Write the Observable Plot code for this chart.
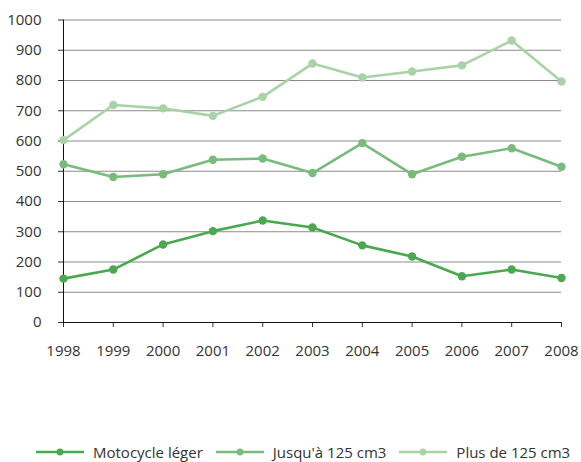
<!DOCTYPE html>
<html>
<head>
<meta charset="utf-8">
<script src="https://cdn.jsdelivr.net/npm/d3@7"></script>
<script src="https://cdn.jsdelivr.net/npm/@observablehq/plot@0.6"></script>
<style>
  body { margin: 0; background: #fff; font-family: "Open Sans", sans-serif; }
  #wrap { position: relative; width: 581px; height: 462px; }
  #legend { position: absolute; left: 36px; top: 441px; height: 22px; display: flex; align-items: center; font-size: 15px; color: #333; white-space: nowrap; }
  .item { display: flex; align-items: center; margin-right: 13px; }
  .item svg { margin-right: 9px; }
</style>
</head>
<body>
<div id="wrap"><div id="chart"></div><div id="legend"></div></div>
<script>
const years = [1998, 1999, 2000, 2001, 2002, 2003, 2004, 2005, 2006, 2007, 2008];
const seriesNames = ["Motocycle léger", "Jusqu'à 125 cm3", "Plus de 125 cm3"];
const motocycleLeger = [145, 175, 258, 302, 337, 314, 255, 218, 153, 175, 147];
const jusqua125 = [523, 481, 490, 538, 542, 494, 593, 490, 548, 576, 515];
const plusDe125 = [603, 719, 708, 683, 746, 856, 810, 830, 850, 932, 797];
const colors = ["#4aa84e", "#78bb7b", "#a9d3a6"];
const yTicks = [0, 100, 200, 300, 400, 500, 600, 700, 800, 900, 1000];

const values = [motocycleLeger, jusqua125, plusDe125];
const data = [];
seriesNames.forEach((s, i) => years.forEach((y, j) => data.push({series: s, year: y, value: values[i][j]})));

const chart = Plot.plot({
  width: 581,
  height: 440,
  marginLeft: 63,
  marginRight: 20,
  marginTop: 19.5,
  marginBottom: 118,
  style: { fontFamily: "Open Sans, sans-serif", fontSize: "15px", color: "#333" },
  x: { domain: [1998, 2008], label: null },
  y: { domain: [0, 1000], label: null },
  color: { domain: seriesNames, range: colors },
  marks: [
    Plot.gridY(yTicks.filter(d => d > 0), { stroke: "#8a8a8a", strokeOpacity: 1, strokeWidth: 1 }),
    Plot.axisX({ ticks: years, tickFormat: d => String(d), tickSize: 5, tickPadding: 18, stroke: "#333", fill: "#333", fontSize: 15 }),
    Plot.axisY({ ticks: yTicks, tickFormat: d => String(d), tickSize: 5, tickPadding: 17, stroke: "#333", fill: "#333", fontSize: 15 }),
    Plot.ruleX([1998], { stroke: "#111" }),
    Plot.ruleY([0], { stroke: "#111" }),
    Plot.line(data, { x: "year", y: "value", z: "series", stroke: "series", strokeWidth: 2.6 }),
    Plot.dot(data, { x: "year", y: "value", fill: "series", r: 4.2 })
  ]
});
document.getElementById("chart").appendChild(chart);

const legend = document.getElementById("legend");
seriesNames.forEach((s, i) => {
  const item = document.createElement("div");
  item.className = "item";
  item.innerHTML = `<svg width="48" height="10"><line x1="0" y1="5" x2="48" y2="5" stroke="${colors[i]}" stroke-width="2.6"/><circle cx="24" cy="5" r="3.4" fill="${colors[i]}"/></svg><span>${s}</span>`;
  legend.appendChild(item);
});
</script>
</body>
</html>
